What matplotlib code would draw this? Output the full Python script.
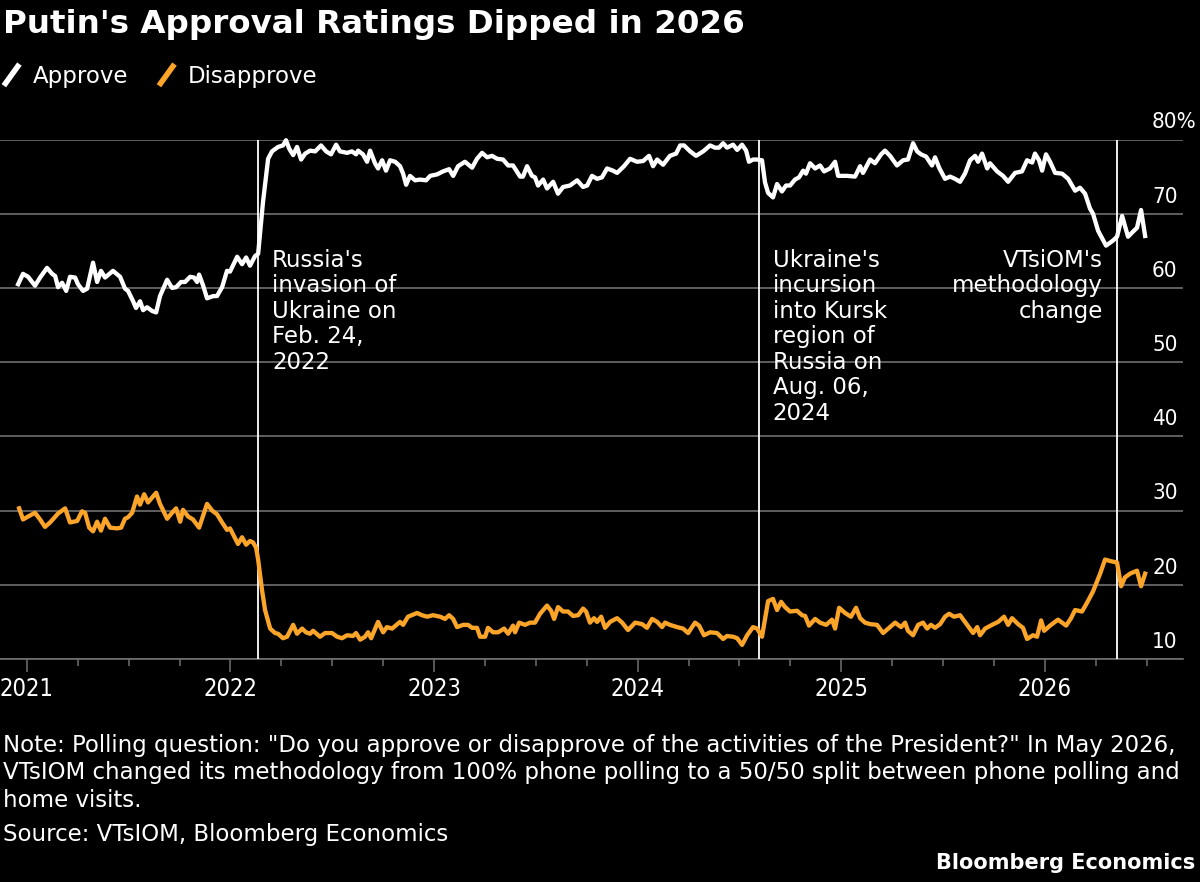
import matplotlib
matplotlib.use('Agg')
import matplotlib.pyplot as plt
from matplotlib.lines import Line2D
from matplotlib.legend_handler import HandlerBase
from matplotlib.ticker import FixedLocator
from matplotlib import font_manager

plt.rcParams['font.family'] = ['DejaVu Sans']

# ---------------- data (decimal years, percent) ----------------
title = "Putin's Approval Ratings Dipped in 2026"
series_names = ['Approve', 'Disapprove']
series_colors = ['#FFFFFF', '#FBA42A']

approve_t = [
    2020.957, 2020.981, 2021.006, 2021.040, 2021.065, 2021.099, 2021.124, 2021.139, 2021.153, 2021.173,
    2021.193, 2021.212, 2021.237, 2021.251, 2021.276, 2021.296, 2021.325, 2021.345, 2021.364, 2021.384,
    2021.423, 2021.458, 2021.482, 2021.497, 2021.522, 2021.536, 2021.556, 2021.571, 2021.590, 2021.615,
    2021.635, 2021.654, 2021.689, 2021.713, 2021.733, 2021.757, 2021.777, 2021.802, 2021.821, 2021.836,
    2021.846, 2021.866, 2021.885, 2021.915, 2021.934, 2021.959, 2021.983, 2021.998, 2022.033, 2022.057,
    2022.077, 2022.096, 2022.121, 2022.136, 2022.160, 2022.185, 2022.204, 2022.234, 2022.258, 2022.273,
    2022.288, 2022.308, 2022.327, 2022.347, 2022.367, 2022.391, 2022.416, 2022.445, 2022.470, 2022.494,
    2022.519, 2022.538, 2022.573, 2022.597, 2022.617, 2022.627, 2022.651, 2022.671, 2022.686, 2022.710,
    2022.725, 2022.745, 2022.764, 2022.784, 2022.809, 2022.833, 2022.848, 2022.863, 2022.882, 2022.907,
    2022.931, 2022.961, 2022.981, 2023.015, 2023.044, 2023.074, 2023.094, 2023.118, 2023.152, 2023.187,
    2023.211, 2023.236, 2023.261, 2023.285, 2023.310, 2023.339, 2023.364, 2023.388, 2023.423, 2023.437,
    2023.457, 2023.481, 2023.496, 2023.511, 2023.536, 2023.555, 2023.585, 2023.609, 2023.634, 2023.668,
    2023.703, 2023.732, 2023.752, 2023.776, 2023.801, 2023.825, 2023.850, 2023.879, 2023.899, 2023.933,
    2023.963, 2023.997, 2024.027, 2024.056, 2024.076, 2024.096, 2024.125, 2024.159, 2024.189, 2024.209,
    2024.228, 2024.258, 2024.287, 2024.322, 2024.356, 2024.380, 2024.400, 2024.420, 2024.439, 2024.469,
    2024.489, 2024.513, 2024.533, 2024.547, 2024.567, 2024.587, 2024.611, 2024.626, 2024.641, 2024.665,
    2024.685, 2024.709, 2024.729, 2024.749, 2024.773, 2024.793, 2024.813, 2024.827, 2024.847, 2024.872,
    2024.896, 2024.916, 2024.945, 2024.970, 2024.985, 2025.029, 2025.068, 2025.093, 2025.107, 2025.142,
    2025.166, 2025.196, 2025.215, 2025.240, 2025.274, 2025.304, 2025.328, 2025.353, 2025.373, 2025.392,
    2025.417, 2025.446, 2025.461, 2025.481, 2025.510, 2025.535, 2025.559, 2025.584, 2025.608, 2025.633,
    2025.658, 2025.672, 2025.692, 2025.717, 2025.731, 2025.766, 2025.795, 2025.820, 2025.854, 2025.888,
    2025.913, 2025.938, 2025.952, 2025.972, 2025.987, 2026.006, 2026.026, 2026.051, 2026.085, 2026.115,
    2026.149, 2026.173, 2026.198, 2026.222, 2026.237, 2026.262, 2026.301, 2026.336, 2026.355, 2026.380,
    2026.409, 2026.434, 2026.453, 2026.473, 2026.493,
]
approve_v = [
    60.5, 61.9, 61.5, 60.3, 61.4, 62.7, 61.9, 61.6, 60.1, 60.7,
    59.6, 61.5, 61.4, 60.5, 59.6, 59.9, 63.4, 60.8, 62.3, 61.4,
    62.3, 61.5, 59.9, 59.6, 58.2, 57.3, 58.2, 57.0, 57.4, 56.9,
    56.7, 58.9, 61.1, 60.0, 60.1, 60.8, 60.8, 61.5, 61.4, 60.8,
    61.8, 60.3, 58.6, 58.9, 58.9, 60.1, 62.3, 62.2, 64.2, 63.2,
    64.1, 63.0, 64.3, 64.6, 71.6, 77.4, 78.4, 79.0, 79.2, 79.9,
    78.8, 77.9, 79.0, 77.3, 78.1, 78.5, 78.4, 79.2, 78.4, 78.0,
    79.3, 78.4, 78.2, 78.4, 78.0, 78.5, 78.0, 77.0, 78.5, 76.8,
    76.1, 77.2, 75.8, 77.2, 77.0, 76.4, 75.4, 73.9, 75.1, 74.5,
    74.6, 74.5, 75.1, 75.3, 75.7, 76.0, 75.1, 76.4, 77.0, 76.2,
    77.4, 78.2, 77.6, 77.8, 77.4, 77.3, 76.5, 76.5, 75.0, 75.0,
    76.4, 75.1, 74.9, 73.8, 74.6, 73.4, 74.3, 72.7, 73.6, 73.8,
    74.5, 73.6, 73.8, 75.1, 74.7, 74.9, 76.1, 75.8, 75.5, 76.4,
    77.4, 77.0, 77.1, 77.8, 76.4, 77.3, 76.6, 77.8, 78.1, 79.2,
    79.2, 78.4, 77.8, 78.4, 79.2, 78.9, 78.9, 79.5, 78.9, 79.3,
    78.6, 79.3, 78.5, 77.0, 77.3, 77.3, 77.2, 74.2, 72.8, 72.2,
    74.0, 73.0, 73.8, 73.8, 74.6, 74.9, 75.8, 75.4, 76.8, 76.1,
    76.5, 75.7, 76.1, 77.0, 75.1, 75.1, 75.0, 76.4, 75.5, 77.3,
    76.8, 78.0, 78.5, 77.8, 76.5, 77.2, 77.3, 79.5, 78.4, 78.0,
    77.7, 76.5, 77.6, 76.2, 74.7, 75.0, 74.7, 74.3, 75.4, 77.2,
    77.8, 77.0, 78.1, 76.1, 76.8, 75.7, 75.1, 74.3, 75.5, 75.7,
    77.2, 76.9, 78.1, 77.2, 75.8, 78.0, 77.0, 75.5, 75.4, 74.7,
    73.1, 73.5, 72.7, 70.7, 70.0, 67.7, 65.7, 66.4, 66.9, 69.7,
    66.9, 67.6, 68.1, 70.5, 67.0,
]

disapprove_t = [
    2020.962, 2020.981, 2021.006, 2021.040, 2021.065, 2021.089, 2021.114, 2021.153, 2021.188, 2021.212,
    2021.247, 2021.271, 2021.286, 2021.306, 2021.325, 2021.345, 2021.364, 2021.384, 2021.409, 2021.443,
    2021.463, 2021.482, 2021.497, 2021.517, 2021.541, 2021.556, 2021.576, 2021.595, 2021.635, 2021.654,
    2021.689, 2021.713, 2021.733, 2021.753, 2021.767, 2021.792, 2021.816, 2021.846, 2021.885, 2021.910,
    2021.934, 2021.959, 2021.983, 2021.998, 2022.037, 2022.057, 2022.077, 2022.096, 2022.111, 2022.126,
    2022.136, 2022.155, 2022.170, 2022.195, 2022.219, 2022.234, 2022.258, 2022.278, 2022.308, 2022.327,
    2022.352, 2022.371, 2022.391, 2022.406, 2022.440, 2022.465, 2022.499, 2022.524, 2022.548, 2022.573,
    2022.602, 2022.617, 2022.637, 2022.661, 2022.676, 2022.691, 2022.725, 2022.750, 2022.769, 2022.794,
    2022.833, 2022.848, 2022.872, 2022.917, 2022.941, 2022.966, 2022.995, 2023.030, 2023.054, 2023.074,
    2023.094, 2023.113, 2023.143, 2023.167, 2023.187, 2023.211, 2023.226, 2023.251, 2023.265, 2023.290,
    2023.315, 2023.344, 2023.364, 2023.388, 2023.398, 2023.418, 2023.447, 2023.472, 2023.496, 2023.521,
    2023.555, 2023.575, 2023.590, 2023.609, 2023.634, 2023.658, 2023.683, 2023.708, 2023.732, 2023.747,
    2023.766, 2023.786, 2023.801, 2023.821, 2023.840, 2023.865, 2023.899, 2023.924, 2023.953, 2023.988,
    2024.022, 2024.046, 2024.071, 2024.096, 2024.120, 2024.135, 2024.159, 2024.194, 2024.223, 2024.248,
    2024.282, 2024.302, 2024.326, 2024.356, 2024.390, 2024.420, 2024.439, 2024.469, 2024.489, 2024.513,
    2024.538, 2024.567, 2024.587, 2024.611, 2024.641, 2024.665, 2024.685, 2024.705, 2024.724, 2024.749,
    2024.783, 2024.808, 2024.823, 2024.842, 2024.872, 2024.896, 2024.926, 2024.955, 2024.970, 2024.990,
    2025.019, 2025.048, 2025.073, 2025.093, 2025.117, 2025.142, 2025.176, 2025.206, 2025.240, 2025.265,
    2025.294, 2025.314, 2025.328, 2025.353, 2025.378, 2025.402, 2025.422, 2025.441, 2025.461, 2025.486,
    2025.510, 2025.530, 2025.554, 2025.584, 2025.608, 2025.648, 2025.668, 2025.682, 2025.707, 2025.741,
    2025.771, 2025.800, 2025.820, 2025.839, 2025.869, 2025.893, 2025.913, 2025.942, 2025.962, 2025.982,
    2025.997, 2026.026, 2026.065, 2026.105, 2026.129, 2026.149, 2026.183, 2026.208, 2026.237, 2026.272,
    2026.296, 2026.321, 2026.355, 2026.375, 2026.394, 2026.419, 2026.453, 2026.473, 2026.493,
]
disapprove_v = [
    30.3, 28.8, 29.2, 29.7, 28.8, 27.8, 28.4, 29.6, 30.3, 28.4,
    28.6, 29.9, 29.7, 27.7, 27.2, 28.5, 27.3, 28.9, 27.7, 27.6,
    27.7, 28.9, 29.1, 29.7, 31.9, 30.8, 32.2, 31.1, 32.4, 30.9,
    28.9, 29.7, 30.3, 28.5, 30.1, 29.2, 28.8, 27.7, 30.9, 30.0,
    29.5, 28.4, 27.4, 27.6, 25.5, 26.4, 25.4, 25.9, 25.7, 25.0,
    23.4, 19.3, 16.6, 14.1, 13.5, 13.4, 12.8, 13.0, 14.6, 13.4,
    14.1, 13.6, 13.4, 13.8, 13.0, 13.5, 13.5, 13.0, 12.8, 13.2,
    13.1, 13.5, 12.6, 13.0, 13.6, 12.8, 15.0, 13.6, 14.3, 14.1,
    15.0, 14.6, 15.7, 16.2, 15.9, 15.7, 15.9, 15.7, 15.4, 15.9,
    15.4, 14.3, 14.6, 14.6, 14.2, 14.2, 13.0, 13.0, 14.2, 13.6,
    13.6, 14.1, 13.4, 14.5, 13.6, 14.9, 14.6, 14.9, 14.9, 16.1,
    17.2, 16.5, 15.4, 17.0, 16.4, 16.4, 15.8, 15.9, 16.8, 16.4,
    14.9, 15.5, 15.0, 15.7, 14.2, 15.0, 15.5, 14.9, 13.9, 14.9,
    14.7, 14.2, 15.4, 15.0, 14.3, 14.9, 14.6, 14.3, 14.1, 13.5,
    14.9, 14.5, 13.2, 13.6, 13.5, 12.7, 13.1, 13.0, 12.8, 11.9,
    13.2, 14.3, 14.1, 13.0, 17.8, 18.1, 16.6, 17.7, 17.0, 16.4,
    16.5, 15.9, 15.8, 14.5, 15.4, 14.9, 14.6, 15.3, 14.1, 16.9,
    16.2, 15.7, 16.9, 15.5, 14.9, 14.7, 14.6, 13.5, 14.3, 14.9,
    14.3, 14.9, 13.8, 13.2, 14.6, 14.9, 14.1, 14.6, 14.2, 14.7,
    15.7, 16.1, 15.7, 15.9, 15.0, 13.5, 14.3, 13.2, 14.1, 14.6,
    15.0, 15.7, 14.6, 15.5, 14.7, 14.2, 12.7, 13.2, 13.0, 15.2,
    13.8, 14.5, 15.3, 14.5, 15.5, 16.6, 16.4, 17.6, 19.1, 21.5,
    23.4, 23.2, 23.0, 19.8, 21.0, 21.5, 21.9, 19.8, 21.5,
]

event_t = [2022.137, 2024.596, 2026.355]
event_labels = [
    "Russia's\ninvasion of\nUkraine on\nFeb. 24,\n2022",
    "Ukraine's\nincursion\ninto Kursk\nregion of\nRussia on\nAug. 06,\n2024",
    "VTsiOM's\nmethodology\nchange",
]
event_side = ['right', 'right', 'left']

year_ticks = [2021, 2022, 2023, 2024, 2025, 2026]
year_labels = ['2021', '2022', '2023', '2024', '2025', '2026']
y_ticks = [10, 20, 30, 40, 50, 60, 70, 80]
y_labels = ['10', '20', '30', '40', '50', '60', '70', '80%']

note_lines = [
    'Note: Polling question: "Do you approve or disapprove of the activities of the President?" In May 2026,',
    'VTsIOM changed its methodology from 100% phone polling to a 50/50 split between phone polling and',
    'home visits.',
]
source_line = 'Source: VTsIOM, Bloomberg Economics'
brand = 'Bloomberg Economics'

# condensed face for axis labels if the system has one
has_condensed = any(f.name == 'DejaVu Sans' and f.stretch == 'condensed'
                    for f in font_manager.fontManager.ttflist)
tick_stretch = 'condensed' if has_condensed else 'normal'
xtick_size = 17 if has_condensed else 15
ytick_size = 16 if has_condensed else 14.5
ylab_x = 1152

# ---------------- figure ----------------
W, H = 1200, 882
fig = plt.figure(figsize=(W / 100, H / 100), dpi=100, facecolor='black')

ax_left, ax_right, ax_top, ax_bottom = 0, 1183, 139.5, 659
ax = fig.add_axes([ax_left / W, 1 - ax_bottom / H, (ax_right - ax_left) / W, (ax_bottom - ax_top) / H])
ax.set_facecolor('black')

grid_color = '#6f6f6f'
text_color = '#FFFFFF'

ax.set_xlim(2020.868, 2026.679)
ax.set_ylim(10, 80)

ax.yaxis.set_major_locator(FixedLocator(y_ticks))
ax.yaxis.grid(True, color=grid_color, lw=1.2, zorder=0)
ax.tick_params(axis='y', left=False, right=False, labelleft=False, labelright=False)

ax.xaxis.set_major_locator(FixedLocator(year_ticks))
ax.set_xticklabels(year_labels, fontstretch=tick_stretch, fontsize=xtick_size)
minor = [y + q for y in [2020] + year_ticks for q in (0.25, 0.5, 0.75) if 2020.868 < y + q < 2026.679]
ax.xaxis.set_minor_locator(FixedLocator(minor))
ax.tick_params(axis='x', which='major', length=9, width=1.1, color=grid_color,
               labelcolor=text_color, pad=4)
ax.tick_params(axis='x', which='minor', length=5, width=1.1, color=grid_color)

for s in ['top', 'left', 'right']:
    ax.spines[s].set_visible(False)
ax.spines['bottom'].set_color(grid_color)
ax.spines['bottom'].set_linewidth(1.2)
ax.spines['bottom'].set_zorder(1)

# y labels above gridlines
for v, lab in zip(y_ticks, y_labels):
    ax.annotate(lab, xy=(ylab_x / ax_right, v), xycoords=('axes fraction', 'data'),
                xytext=(0, 8), textcoords='offset points', ha='left', va='baseline',
                color=text_color, fontsize=ytick_size, fontstretch=tick_stretch,
                annotation_clip=False)

# event lines
for t, lab, side in zip(event_t, event_labels, event_side):
    ax.axvline(t, color='#FFFFFF', lw=1.3, zorder=2)
    dx = 10 if side == 'right' else -10
    ax.annotate(lab, xy=(t, 65.3), xycoords='data', xytext=(dx, 0), textcoords='offset points',
                ha='left' if side == 'right' else 'right', va='top', color=text_color,
                fontsize=16.5, linespacing=1.14, multialignment='left' if side == 'right' else 'right')

ax.plot(approve_t, approve_v, color=series_colors[0], lw=3.1, zorder=4, clip_on=False,
        solid_joinstyle='round', label=series_names[0])
ax.plot(disapprove_t, disapprove_v, color=series_colors[1], lw=3.1, zorder=3, clip_on=False,
        solid_joinstyle='round', label=series_names[1])

# title
fig.text(3 / W, 1 - 33 / H, title, color=text_color, fontsize=23.4, fontweight='bold',
         ha='left', va='baseline')


class SlashHandler(HandlerBase):
    def create_artists(self, legend, orig_handle, xdescent, ydescent, width, height, fontsize, trans):
        ln = Line2D([-xdescent + 0.1 * width, -xdescent + 0.95 * width],
                    [-ydescent - 0.2 * height, -ydescent + 1.15 * height],
                    color=orig_handle.get_color(), lw=4, solid_capstyle='butt', transform=trans)
        return [ln]


handles = [Line2D([], [], color=c) for c in series_colors]
leg = fig.legend(handles, series_names, loc='center left', bbox_to_anchor=(2 / W, 1 - 76 / H),
                 ncol=2, frameon=False, fontsize=16.5, handlelength=0.8, handleheight=0.7,
                 handletextpad=0.55, columnspacing=1.25, borderpad=0, borderaxespad=0,
                 handler_map={Line2D: SlashHandler()})
for txt in leg.get_texts():
    txt.set_color(text_color)

# footnotes
for i, line in enumerate(note_lines):
    fig.text(3 / W, 1 - (752 + 27.5 * i) / H, line, color=text_color, fontsize=16.5,
             ha='left', va='baseline')
fig.text(3 / W, 1 - 841 / H, source_line, color=text_color, fontsize=16.5, ha='left', va='baseline')
fig.text(1195 / W, 1 - 869 / H, brand, color=text_color, fontsize=15, fontweight='bold',
         ha='right', va='baseline')

fig.savefig('out.png', dpi=100, facecolor='black')
